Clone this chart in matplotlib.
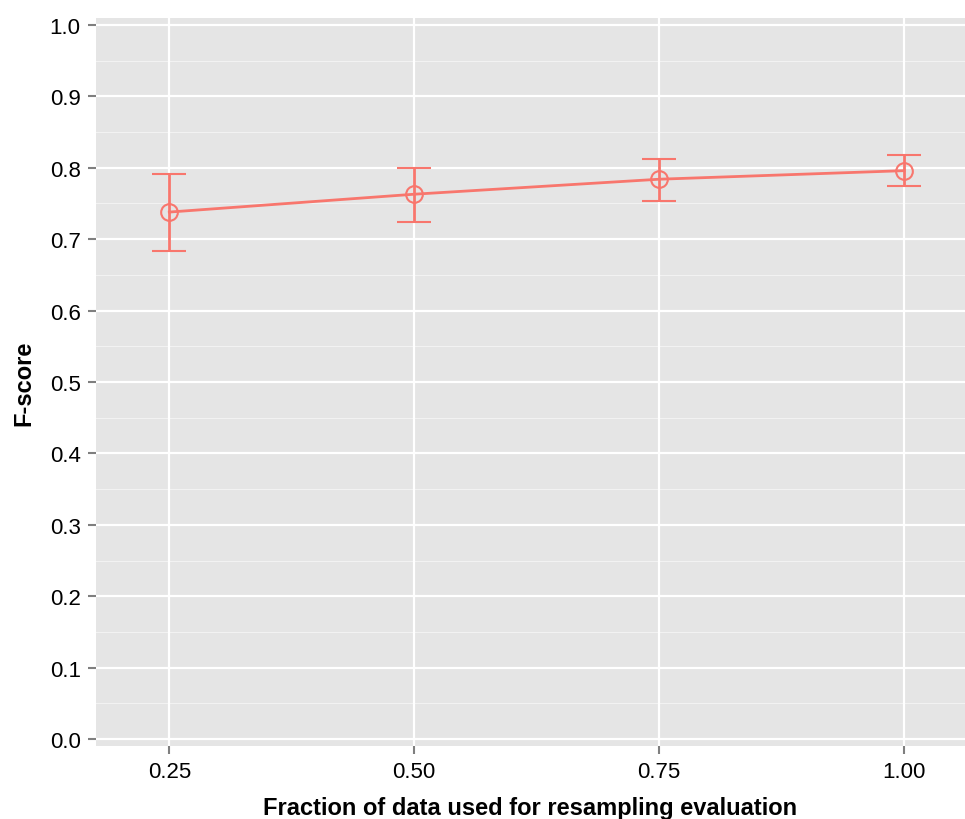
import matplotlib
matplotlib.use("Agg")
import matplotlib.pyplot as plt
import numpy as np

fractions = [0.25, 0.50, 0.75, 1.00]
fscore_mean = [0.738, 0.763, 0.784, 0.796]
fscore_upper = [0.791, 0.800, 0.812, 0.818]
fscore_lower = [0.683, 0.724, 0.754, 0.775]
x_ticks = [0.25, 0.50, 0.75, 1.00]
x_tick_labels = ["0.25", "0.50", "0.75", "1.00"]
y_ticks = [0.0, 0.1, 0.2, 0.3, 0.4, 0.5, 0.6, 0.7, 0.8, 0.9, 1.0]

plt.rcParams['font.family'] = ['Liberation Sans', 'DejaVu Sans']

color = "#F8766D"
fig = plt.figure(figsize=(9.65, 8.2), dpi=100)
ax = fig.add_axes([96/965, 73/820, 1 - 96/965, (747-19)/820])
ax.set_facecolor("#E5E5E5")
for s in ax.spines.values():
    s.set_visible(False)

ax.set_xlim(0.1752, 1.0622)
ax.set_ylim(-0.0098, 1.0098)

# minor grid
for v in np.arange(0.05, 1.0, 0.1):
    ax.axhline(v, color="#F2F2F2", lw=0.8, zorder=0)
ax.set_yticks(y_ticks)
ax.set_xticks(x_ticks)
ax.set_xticklabels(x_tick_labels)
ax.set_yticklabels([f"{v:.1f}" for v in y_ticks])
ax.grid(True, which="major", color="white", lw=1.6, zorder=0.5)
ax.set_axisbelow(True)
ax.tick_params(axis="both", colors="#7F7F7F", length=6, width=1.5, labelsize=16, labelcolor="black")
ax.tick_params(axis="x", pad=5)
ax.tick_params(axis="y", pad=5)

m = np.array(fscore_mean)
yerr = [m - np.array(fscore_lower), np.array(fscore_upper) - m]
ax.errorbar(fractions, fscore_mean, yerr=yerr, color=color, lw=2, capsize=12, capthick=2,
            marker="o", markersize=12, markerfacecolor="none", markeredgecolor=color,
            markeredgewidth=1.5, zorder=3)

ax.set_xlabel("Fraction of data used for resampling evaluation", fontsize=17, fontweight="bold", labelpad=10)
ax.set_ylabel("F-score", fontsize=17, fontweight="bold", labelpad=10)

fig.savefig("out.png", dpi=100)
